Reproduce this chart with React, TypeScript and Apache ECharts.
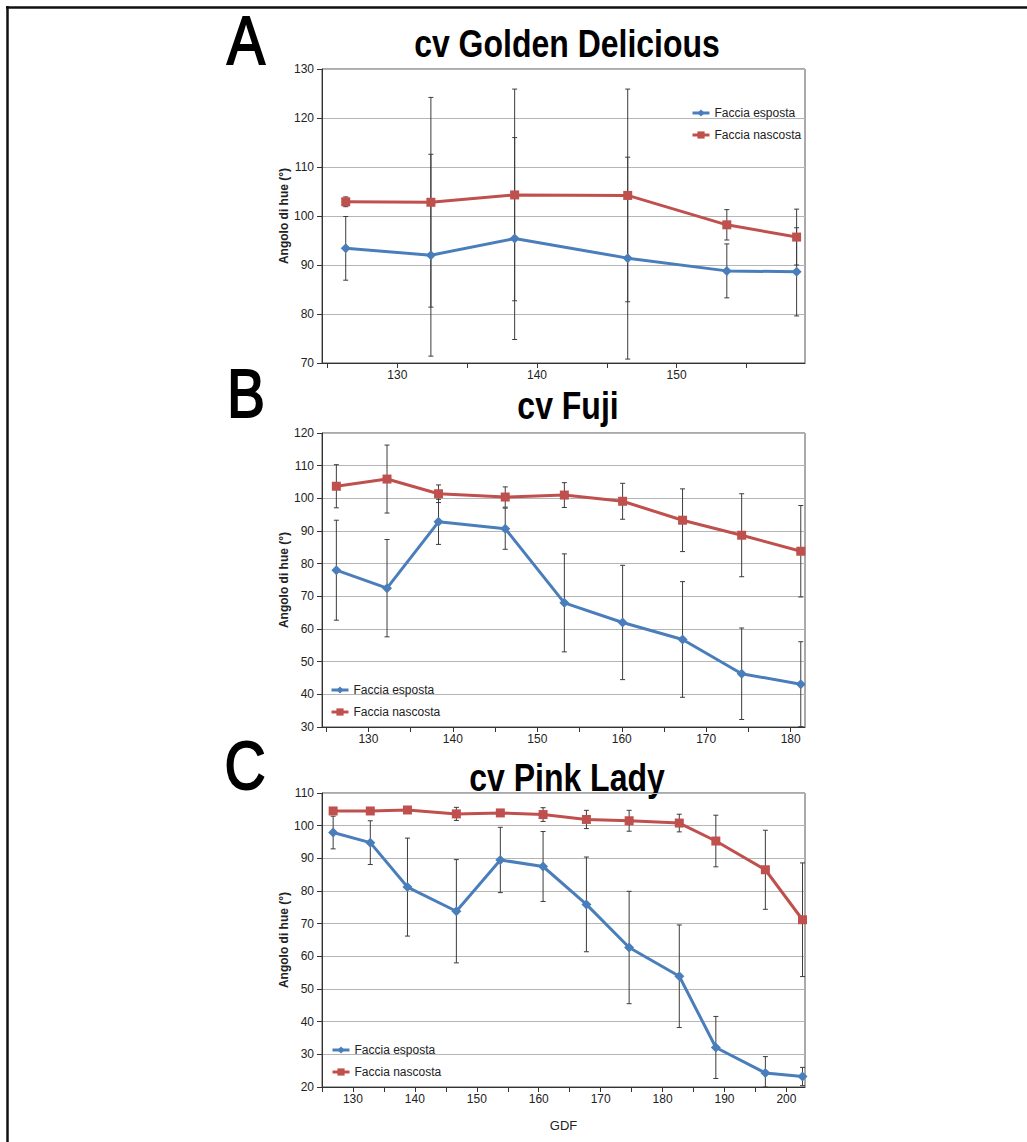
import React, { useEffect, useRef } from "react";
import * as echarts from "echarts";

const seriesNames = ["Faccia esposta", "Faccia nascosta"];
const panelTitles = ["cv Golden Delicious", "cv Fuji", "cv Pink Lady"];
const panelLetters = ["A", "B", "C"];
const yAxisName = "Angolo di hue (°)";
const xAxisName = "GDF";

// Panel A – cv Golden Delicious
const gdfA = [126.3, 132.4, 138.4, 146.5, 153.6, 158.6];
const espostaA = [93.4, 92.0, 95.4, 91.4, 88.8, 88.6];
const espostaErrA = [6.5, 20.6, 20.6, 20.6, 5.5, 9.0];
const nascostaA = [102.9, 102.8, 104.3, 104.2, 98.2, 95.7];
const nascostaErrA = [1.0, 21.4, 21.6, 21.7, 3.1, 5.7];

// Panel B – cv Fuji
const gdfB = [126.2, 132.2, 138.3, 146.2, 153.2, 160.1, 167.2, 174.2, 181.2];
const espostaB = [78.0, 72.5, 92.8, 90.7, 68.0, 62.0, 56.8, 46.3, 43.1];
const espostaErrB = [15.3, 14.9, 6.9, 6.3, 15.0, 17.5, 17.7, 14.0, 13.0];
const nascostaB = [103.7, 105.9, 101.4, 100.4, 101.0, 99.1, 93.3, 88.7, 83.8];
const nascostaErrB = [6.6, 10.4, 2.7, 3.1, 3.8, 5.5, 9.6, 12.7, 14.0];

// Panel C – cv Pink Lady
const gdfC = [126.8, 132.8, 138.8, 146.7, 153.8, 160.7, 167.7, 174.6, 182.7, 188.6, 196.6, 202.6];
const espostaC = [97.9, 94.8, 81.2, 73.8, 89.5, 87.5, 75.9, 62.7, 53.9, 32.1, 24.3, 23.2];
const espostaErrC = [5.0, 6.7, 15.0, 15.8, 10.0, 10.7, 14.5, 17.2, 15.7, 9.5, 5.0, 2.8];
const nascostaC = [104.5, 104.5, 104.8, 103.6, 103.9, 103.4, 101.9, 101.5, 100.8, 95.3, 86.5, 71.2];
const nascostaErrC = [0.8, 0.6, 0.5, 2.0, 1.0, 2.1, 2.8, 3.2, 2.7, 7.9, 12.1, 17.4];

// Axis ranges and ticks
const xRangeA = [124.6, 159.2];
const xRangeB = [124.5, 181.7];
const xRangeC = [125, 203];
const xTicksA = [125, 130, 135, 140, 145, 150, 155];
const xTicksB = [125, 130, 135, 140, 145, 150, 155, 160, 165, 170, 175, 180];
const xTicksC = [125, 130, 135, 140, 145, 150, 155, 160, 165, 170, 175, 180, 185, 190, 195, 200];
const xLabelsA = [130, 140, 150];
const xLabelsB = [130, 140, 150, 160, 170, 180];
const xLabelsC = [130, 140, 150, 160, 170, 180, 190, 200];
const yRangeA = [70, 130];
const yRangeB = [30, 120];
const yRangeC = [20, 110];

const BLUE = "#4a7ebb";
const RED = "#c0504d";
const FONT = '"Liberation Sans", Arial, Helvetica, sans-serif';

const GRID_LEFT = 322;
const GRID_W = 483;
const GRID_H = 294;
const GRID_TOPS = [69, 433, 793];

function makeXAxis(gi: number, range: number[], ticks: number[], labels: number[], name?: string) {
  return {
    type: "value",
    gridIndex: gi,
    min: range[0],
    max: range[1],
    axisLine: { show: true, onZero: false, lineStyle: { color: "#333", width: 1 } },
    axisTick: { show: true, customValues: ticks, length: 5, lineStyle: { color: "#333" } },
    axisLabel: { customValues: labels, color: "#222", fontSize: 12, margin: 6, fontFamily: FONT },
    splitLine: { show: false },
    name: name || "",
    nameLocation: "middle",
    nameGap: 32,
    nameTextStyle: { color: "#222", fontSize: 13, fontFamily: FONT },
  };
}

function makeYAxis(gi: number, range: number[]) {
  return {
    type: "value",
    gridIndex: gi,
    min: range[0],
    max: range[1],
    interval: 10,
    axisLine: { show: true, lineStyle: { color: "#333", width: 1 } },
    axisTick: { show: true, length: 5, lineStyle: { color: "#333" } },
    axisLabel: { color: "#222", fontSize: 12, margin: 8, fontFamily: FONT },
    splitLine: { show: true, lineStyle: { color: "#b5b5b5", width: 1 } },
    name: yAxisName,
    nameLocation: "middle",
    nameGap: 30,
    nameRotate: 90,
    nameTextStyle: { color: "#222", fontSize: 12, fontWeight: "bold", fontFamily: FONT },
  };
}

function lineSeries(gi: number, name: string, xs: number[], ys: number[], color: string, symbol: string, size: number) {
  return {
    type: "line",
    name,
    xAxisIndex: gi,
    yAxisIndex: gi,
    data: xs.map((x, i) => [x, ys[i]]),
    symbol,
    symbolSize: size,
    showSymbol: true,
    lineStyle: { color, width: 3 },
    itemStyle: { color },
    z: 3,
  };
}

function errSeries(gi: number, xs: number[], ys: number[], errs: number[], yMin: number) {
  return {
    type: "custom",
    xAxisIndex: gi,
    yAxisIndex: gi,
    silent: true,
    z: 2,
    data: xs.map((x, i) => [x, Math.max(yMin, ys[i] - errs[i]), ys[i] + errs[i]]),
    encode: { x: 0, y: [1, 2] },
    renderItem: (_params: any, api: any) => {
      const x = api.value(0);
      const lo = api.value(1);
      const hi = api.value(2);
      const pHi = api.coord([x, hi]);
      const pLo = api.coord([x, lo]);
      const cw = 2.5;
      const st = { stroke: "#3c3c3c", lineWidth: 1 };
      return {
        type: "group",
        children: [
          { type: "line", shape: { x1: pHi[0], y1: pHi[1], x2: pLo[0], y2: pLo[1] }, style: st },
          { type: "line", shape: { x1: pHi[0] - cw, y1: pHi[1], x2: pHi[0] + cw, y2: pHi[1] }, style: st },
          { type: "line", shape: { x1: pLo[0] - cw, y1: pLo[1], x2: pLo[0] + cw, y2: pLo[1] }, style: st },
        ],
      };
    },
  };
}

function textEl(text: string, x: number, y: number, size: number, weight: string, strokeW: number) {
  return {
    type: "text",
    x,
    y,
    scaleY: 1.2,
    style: {
      text,
      font: `${weight} ${size}px ${FONT}`,
      fill: "#000",
      stroke: strokeW > 0 ? "#000" : undefined,
      lineWidth: strokeW,
      align: "center",
      verticalAlign: "middle",
      textAlign: "center",
      textVerticalAlign: "middle",
    },
  };
}

export default function App() {
  const ref = useRef<HTMLDivElement>(null);

  useEffect(() => {
    document.body.style.margin = "0";
    if (!ref.current) return;
    const chart = echarts.init(ref.current, undefined, { renderer: "svg" });

    const grids = GRID_TOPS.map((top) => ({
      left: GRID_LEFT,
      top,
      width: GRID_W,
      height: GRID_H,
      show: true,
      borderColor: "#555",
      borderWidth: 1,
      backgroundColor: "transparent",
    }));

    const legendBase = {
      data: seriesNames,
      orient: "vertical",
      itemWidth: 17,
      itemHeight: 9,
      itemGap: 10,
      selectedMode: false,
      lineStyle: { width: 3 },
      textStyle: { color: "#222", fontSize: 12, fontFamily: FONT },
    };

    const option: any = {
      animation: false,
      backgroundColor: "#fff",
      grid: grids,
      xAxis: [
        makeXAxis(0, xRangeA, xTicksA, xLabelsA),
        makeXAxis(1, xRangeB, xTicksB, xLabelsB),
        makeXAxis(2, xRangeC, xTicksC, xLabelsC, xAxisName),
      ],
      yAxis: [makeYAxis(0, yRangeA), makeYAxis(1, yRangeB), makeYAxis(2, yRangeC)],
      legend: [
        { ...legendBase, left: 686, top: 102 },
        { ...legendBase, left: 325, top: 679 },
        { ...legendBase, left: 326, top: 1039 },
      ],
      series: [
        errSeries(0, gdfA, nascostaA, nascostaErrA, yRangeA[0]),
        errSeries(0, gdfA, espostaA, espostaErrA, yRangeA[0]),
        lineSeries(0, seriesNames[1], gdfA, nascostaA, RED, "rect", 9),
        lineSeries(0, seriesNames[0], gdfA, espostaA, BLUE, "diamond", 10),
        errSeries(1, gdfB, nascostaB, nascostaErrB, yRangeB[0]),
        errSeries(1, gdfB, espostaB, espostaErrB, yRangeB[0]),
        lineSeries(1, seriesNames[1], gdfB, nascostaB, RED, "rect", 9),
        lineSeries(1, seriesNames[0], gdfB, espostaB, BLUE, "diamond", 10),
        errSeries(2, gdfC, nascostaC, nascostaErrC, yRangeC[0]),
        errSeries(2, gdfC, espostaC, espostaErrC, yRangeC[0]),
        lineSeries(2, seriesNames[1], gdfC, nascostaC, RED, "rect", 9),
        lineSeries(2, seriesNames[0], gdfC, espostaC, BLUE, "diamond", 10),
      ],
      graphic: [
        { type: "line", shape: { x1: 6, y1: 7.5, x2: 1027, y2: 7.5 }, style: { stroke: "#111", lineWidth: 2.5 } },
        { type: "line", shape: { x1: 7.5, y1: 6, x2: 7.5, y2: 1142 }, style: { stroke: "#111", lineWidth: 2.5 } },
        textEl(panelTitles[0], 567, 43, 32, "bold", 0),
        textEl(panelTitles[1], 568, 405, 32, "bold", 0),
        textEl(panelTitles[2], 567, 777, 32, "bold", 0),
        textEl(panelLetters[0], 246, 40, 57, "normal", 1.6),
        textEl(panelLetters[1], 246, 393, 57, "normal", 1.6),
        textEl(panelLetters[2], 245, 765, 57, "normal", 1.6),
      ],
    };

    chart.setOption(option);
    return () => chart.dispose();
  }, []);

  return <div ref={ref} style={{ width: 1027, height: 1142 }} />;
}
